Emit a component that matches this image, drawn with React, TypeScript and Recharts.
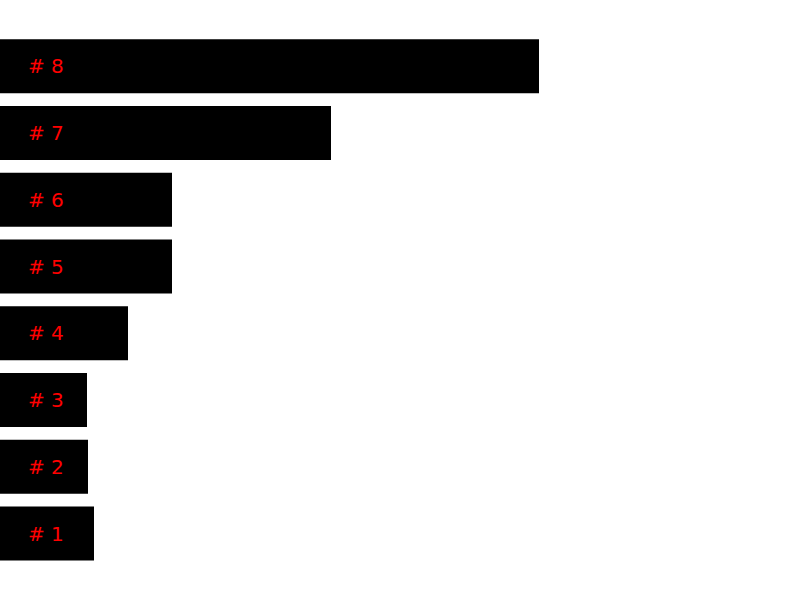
import { Bar, BarChart, LabelList, XAxis, YAxis } from 'recharts';

const names = ['# 8', '# 7', '# 6', '# 5', '# 4', '# 3', '# 2', '# 1'];
const values = [539, 331, 172, 172, 128, 87, 88, 94];

const data = names.map((name, i) => ({ name, value: values[i] }));

export default function App() {
  return (
    <div style={{ position: 'absolute', left: 0, top: 0, background: '#fff' }}>
      <BarChart
        width={800}
        height={600}
        data={data}
        layout="vertical"
        margin={{ top: 33, right: 0, bottom: 33, left: 0 }}
        barCategoryGap="9.5%"
      >
        <XAxis type="number" domain={[0, 800]} hide />
        <YAxis type="category" dataKey="name" hide />
        <Bar dataKey="value" fill="#000000" isAnimationActive={false}>
          <LabelList
            dataKey="name"
            position="insideLeft"
            offset={28}
            fill="#ff0000"
            style={{ fontFamily: 'DejaVu Sans', fontSize: 20 }}
          />
        </Bar>
      </BarChart>
    </div>
  );
}
